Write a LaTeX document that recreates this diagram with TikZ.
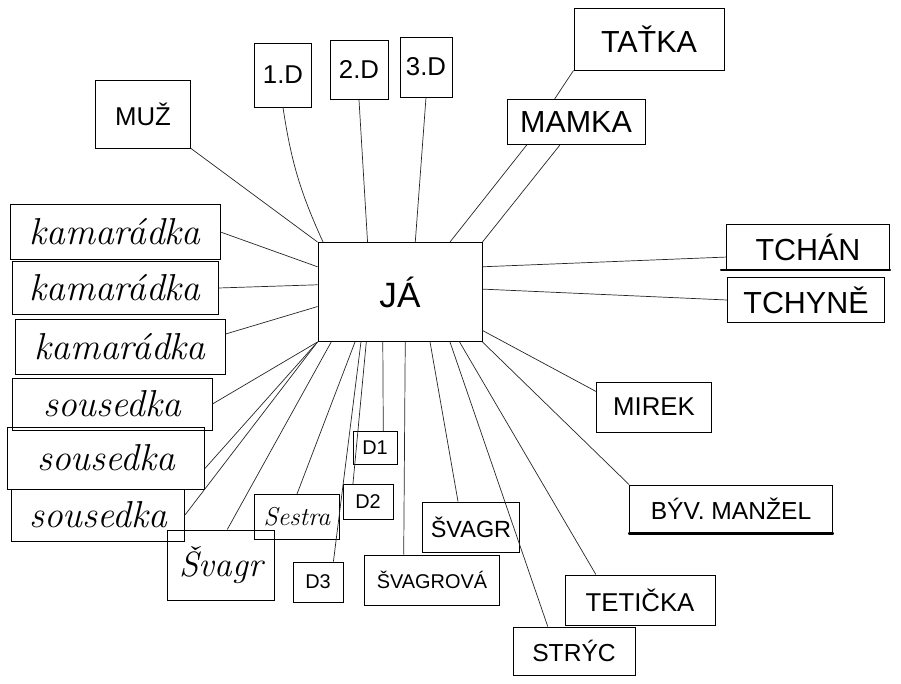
\documentclass[tikz,border=0pt]{standalone}
\usepackage{fontspec}
\newfontfamily\printfont{Liberation Sans}
\usetikzlibrary{calc}

\begin{document}
\begin{tikzpicture}[x=0.03cm, y=-0.03cm,
  person/.style={rectangle, draw=black, line width=0.8pt, inner sep=0pt, align=center, font=\printfont\fontsize{24}{26}\selectfont},
  cursive/.style={person, font=\itshape\fontsize{32}{34}\selectfont},
  boxsize/.style 2 args={minimum width=#1*0.03cm, minimum height=#2*0.03cm},
  pt/.style={font=\printfont\fontsize{#1}{#1}\selectfont},
  link/.style={line width=0.6pt, draw=black!85},
  underline/.style={line width=2pt, line cap=round}
]
\useasboundingbox (0,0) rectangle (901,684);

% Centre
\node[person, boxsize={164}{99}, pt=30] (ja) at (400,292) {JÁ};

% Top row
\node[person, boxsize={95}{68}, pt=22] (muz) at (143,114) {MUŽ};
\node[person, boxsize={57}{64}, pt=22] (dite1) at (283,75) {1.D};
\node[person, boxsize={58}{59}, pt=22] (dite2) at (359,70) {2.D};
\node[person, boxsize={52}{60}, pt=22] (dite3) at (426,67) {3.D};
\node[person, boxsize={150}{62}, pt=26] (tatka) at (649,39) {TAŤKA};
\node[person, boxsize={138}{45}, pt=26] (mamka) at (576,122) {MAMKA};

% Right side
\node[person, boxsize={163}{45}, pt=26] (tchan) at (808,247) {TCHÁN};
\node[person, boxsize={157}{45}, pt=26] (tchyne) at (806,300) {TCHYNĚ};
\node[person, boxsize={115}{50}, pt=22] (mirek) at (654,407) {MIREK};
\node[person, boxsize={203}{48}, pt=21] (byv) at (731,509) {BÝV. MANŽEL};
\node[person, boxsize={150}{50}, pt=22] (tetka) at (640,600) {TETIČKA};
\node[person, boxsize={122}{48}, pt=21] (stryc) at (574,651) {STRÝC};

% Bottom
\node[person, boxsize={97}{50}, pt=20] (svagrb) at (471,527) {ŠVAGR};
\node[person, boxsize={135}{50}, pt=17] (svagrova) at (432,580) {ŠVAGROVÁ};
\node[person, boxsize={44}{33}, pt=17] (d1) at (375,448) {D1};
\node[person, boxsize={50}{35}, pt=17] (d2) at (368,502) {D2};
\node[person, boxsize={50}{40}, pt=17] (d3) at (318,582) {D3};
\node[cursive, boxsize={85}{45}, font=\itshape\fontsize{22}{24}\selectfont] (sestra) at (297,517) {Sestra};
\node[cursive, boxsize={107}{70}, font=\itshape\fontsize{30}{32}\selectfont] (svagr) at (221,565) {Švagr};

% Left stack
\node[cursive, boxsize={210}{55}] (kam1) at (115,232) {kamarádka};
\node[cursive, boxsize={206}{53}] (kam2) at (115,288) {kamarádka};
\node[cursive, boxsize={210}{55}] (kam3) at (120,347) {kamarádka};
\node[cursive, boxsize={200}{52}] (sous1) at (112,404) {sousedka};
\node[cursive, boxsize={197}{62}] (sous2) at (106,458) {sousedka};
\node[cursive, boxsize={173}{52}] (sous3) at (98,515) {sousedka};

% Links upwards
\draw[link] (muz.south east) -- (ja.north west);
\draw[link] (dite1.south) to[bend right=8] (ja.147);
\draw[link] (dite2.south) -- (ja.123);
\draw[link] (dite3.south) -- (ja.73);
\draw[link] (tatka.south west) -- (mamka.133);
\draw[link] (mamka.-155) -- (ja.45);
\draw[link] (mamka.-125) -- (ja.north east);

% Links to the right
\draw[link] (ja.17) -- (tchan.187);
\draw[link] (ja.2) -- (tchyne.west);
\draw[link] (ja.-25) -- (mirek.165);
\draw[link] (ja.south east) -- (byv.north west);
\draw[link] (ja.-40) -- (tetka.150);
\draw[link] (ja.-45) -- (stryc.137);

% Links downwards
\draw[link] (ja.-59) -- (svagrb.117);
\draw[link] (ja.-84) -- (svagrova.138);
\draw[link] (ja.-109) -- (d1.64);
\draw[link] (ja.-124) -- (d2.130);
\draw[link] (ja.-128) -- (d3.53);
\draw[link] (ja.-132) -- (sestra.north);
\draw[link] (ja.-144) -- (svagr.80);

% Links to the left
\draw[link] (ja.south west) -- (sous3.east);
\draw[link] (ja.south west) -- (sous2.-6);
\draw[link] (ja.south west) -- (sous1.east);
\draw[link] (ja.190) -- (kam3.7);
\draw[link] (ja.175) -- (kam2.east);
\draw[link] (ja.163) -- (kam1.east);

% Underlines
\draw[underline] ($(tchan.south west)+(-5,0)$) -- (tchan.south east);
\draw[underline] (byv.south west) -- (byv.south east);

\end{tikzpicture}
\end{document}
